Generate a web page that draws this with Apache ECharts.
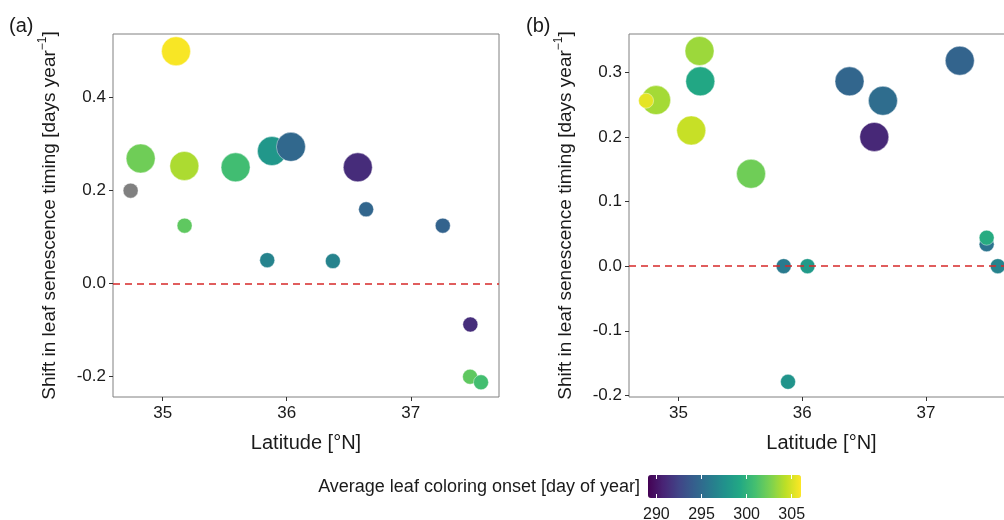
<!DOCTYPE html>
<html><head><meta charset="utf-8">
<script src="https://cdn.jsdelivr.net/npm/echarts@6/dist/echarts.min.js"></script>
<style>html,body{margin:0;padding:0;background:#fff}#c{width:1004px;height:520px}</style>
</head><body><div id="c"></div>
<script>
// ---- Panel (a) ----
const aLat   = [35.108, 34.823, 35.175, 35.588, 35.881, 36.034, 36.573, 34.742, 36.640, 35.177, 35.843, 36.372, 37.258, 37.480, 37.478, 37.566];
const aShift = [0.498, 0.268, 0.252, 0.249, 0.284, 0.293, 0.249, 0.199, 0.159, 0.124, 0.050, 0.048, 0.124, -0.088, -0.200, -0.212];
const aOnset = [305.9, 302.3, 303.9, 300.8, 298.0, 294.8, 291.2, null, 294.6, 301.8, 296.6, 296.6, 294.4, 291.3, 301.8, 300.9];
const aBig   = [1, 1, 1, 1, 1, 1, 1, 0, 0, 0, 0, 0, 0, 0, 0, 0];
// ---- Panel (b) ----
const bLat   = [34.819, 35.170, 35.176, 35.103, 35.586, 36.382, 36.652, 36.582, 37.273, 34.738, 35.850, 36.042, 35.885, 37.490, 37.490, 37.580];
const bShift = [0.257, 0.333, 0.286, 0.210, 0.143, 0.286, 0.256, 0.200, 0.318, 0.256, 0.000, 0.000, -0.179, 0.034, 0.044, 0.000];
const bOnset = [303.7, 303.5, 299.2, 304.6, 302.3, 294.6, 295.1, 291.0, 294.5, 305.4, 296.0, 298.2, 297.8, 295.6, 299.5, 296.6];
const bBig   = [1, 1, 1, 1, 1, 1, 1, 1, 1, 0, 0, 0, 0, 0, 0, 0];
// ---- Axes / ticks ----
const xTicks  = [35, 36, 37];
const aYTicks = [-0.2, 0.0, 0.2, 0.4];
const bYTicks = [-0.2, -0.1, 0.0, 0.1, 0.2, 0.3];
const cbTicks = [290, 295, 300, 305];
const xRange  = [34.6, 37.711];
const aYRange = [-0.2435, 0.535];
const bYRange = [-0.2025, 0.3593];
const onsetRange = [289.07, 306.03];
const viridis = ['#440154','#482475','#414487','#355f8d','#2a788e','#21918c','#22a884','#44bf70','#7ad151','#bddf26','#fde725'];

const FONT = "'Liberation Sans', Arial, sans-serif";
const TXT = '#1a1a1a';

function build(lat, shift, onset, big, na) {
  const out = [];
  for (let i = 0; i < lat.length; i++) {
    const isNA = onset[i] === null;
    if (isNA === na) out.push([lat[i], shift[i], isNA ? 0 : onset[i], big[i]]);
  }
  return out;
}

const chart = echarts.init(document.getElementById('c'), null, {renderer: 'canvas'});

function xAxisFor(gi) {
  return {
    type: 'value', gridIndex: gi, min: xRange[0], max: xRange[1],
    axisLine: {show: false, onZero: false},
    axisTick: {show: true, length: 4, lineStyle: {color: '#333', width: 1}, customValues: xTicks},
    axisLabel: {customValues: xTicks, fontSize: 17, margin: 8, color: TXT, fontFamily: FONT},
    splitLine: {show: false},
    name: 'Latitude [°N]', nameLocation: 'middle', nameGap: 36,
    nameTextStyle: {fontSize: 20, color: TXT, fontFamily: FONT}
  };
}
function yAxisFor(gi, range, ticks) {
  return {
    type: 'value', gridIndex: gi, min: range[0], max: range[1],
    axisLine: {show: false, onZero: false},
    axisTick: {show: true, length: 4, lineStyle: {color: '#333', width: 1}, customValues: ticks},
    axisLabel: {customValues: ticks, fontSize: 17, margin: 7, color: TXT, fontFamily: FONT,
      formatter: v => Number(v).toFixed(1)},
    splitLine: {show: false},
    name: '{a|Shift in leaf senescence timing [days year}{s|−1}{a|]}',
    nameLocation: 'middle', nameGap: 51,
    nameTextStyle: {color: TXT, fontFamily: FONT,
      rich: {a: {fontSize: 19, lineHeight: 25, color: TXT, fontFamily: FONT},
             s: {fontSize: 12, lineHeight: 25, verticalAlign: 'top', color: TXT, fontFamily: FONT}}}
  };
}

const ptStyle = {borderColor: 'rgba(255,255,255,0.7)', borderWidth: 0.6, opacity: 1};
const sizeFn = v => v[3] ? 29 : 15;

const refLine = {
  silent: true, symbol: ['none', 'none'],
  label: {show: false},
  lineStyle: {color: '#d62828', type: [7, 5], width: 1.6},
  data: [{yAxis: 0}]
};

const option = {
  animation: false,
  backgroundColor: '#fff',
  textStyle: {fontFamily: FONT},
  title: [
    {text: '(a)', left: 9, top: 14, padding: 0, textStyle: {fontSize: 20, fontWeight: 'normal', color: TXT, fontFamily: FONT, lineHeight: 24}},
    {text: '(b)', left: 526, top: 14, padding: 0, textStyle: {fontSize: 20, fontWeight: 'normal', color: TXT, fontFamily: FONT, lineHeight: 24}},
    {text: 'Average leaf coloring onset [day of year]', right: 364, top: 476, padding: 0,
     textStyle: {fontSize: 18, fontWeight: 'normal', color: TXT, fontFamily: FONT, lineHeight: 22}}
  ],
  grid: [
    {left: 113, top: 34, width: 386, height: 363, show: true, borderColor: '#808080', borderWidth: 1,
     backgroundColor: 'transparent', outerBoundsMode: 'none', containLabel: false},
    {left: 629, top: 34, right: -10, height: 363, show: true, borderColor: '#808080', borderWidth: 1,
     backgroundColor: 'transparent', outerBoundsMode: 'none', containLabel: false},
    {left: 648, top: 475, width: 153, height: 23, show: false, outerBoundsMode: 'none', containLabel: false}
  ],
  xAxis: [
    xAxisFor(0), xAxisFor(1),
    {type: 'value', gridIndex: 2, min: onsetRange[0], max: onsetRange[1], z: 10,
     axisLine: {show: false, onZero: false},
     axisTick: {show: true, inside: true, length: 4, lineStyle: {color: '#fff', width: 1}, customValues: cbTicks},
     axisLabel: {customValues: cbTicks, fontSize: 16, margin: 9, color: TXT, fontFamily: FONT},
     splitLine: {show: false}},
    {type: 'value', gridIndex: 2, position: 'top', min: onsetRange[0], max: onsetRange[1], z: 10,
     axisLine: {show: false, onZero: false},
     axisTick: {show: true, inside: true, length: 4, lineStyle: {color: '#fff', width: 1}, customValues: cbTicks},
     axisLabel: {show: false}, splitLine: {show: false}}
  ],
  yAxis: [
    yAxisFor(0, aYRange, aYTicks), yAxisFor(1, bYRange, bYTicks),
    {type: 'value', gridIndex: 2, show: false, min: 0, max: 1}
  ],
  visualMap: {
    type: 'continuous', min: onsetRange[0], max: onsetRange[1], dimension: 2,
    seriesIndex: [0, 1], orient: 'horizontal', left: 648, top: 475,
    itemWidth: 23, itemHeight: 153, padding: 0, calculable: false, hoverLink: false,
    text: null, showLabel: false, z: 1,
    inRange: {color: viridis}
  },
  series: [
    {type: 'scatter', xAxisIndex: 0, yAxisIndex: 0, z: 3, data: build(aLat, aShift, aOnset, aBig, false),
     symbolSize: sizeFn, itemStyle: ptStyle},
    {type: 'scatter', xAxisIndex: 1, yAxisIndex: 1, z: 3, data: build(bLat, bShift, bOnset, bBig, false),
     symbolSize: sizeFn, itemStyle: ptStyle},
    {type: 'scatter', xAxisIndex: 0, yAxisIndex: 0, z: 3, data: build(aLat, aShift, aOnset, aBig, true),
     symbolSize: sizeFn, itemStyle: Object.assign({}, ptStyle, {color: '#808080'})},
    {type: 'line', xAxisIndex: 0, yAxisIndex: 0, z: 2, data: [], markLine: refLine},
    {type: 'line', xAxisIndex: 1, yAxisIndex: 1, z: 2, data: [], markLine: refLine}
  ]
};
chart.setOption(option);
</script></body></html>
